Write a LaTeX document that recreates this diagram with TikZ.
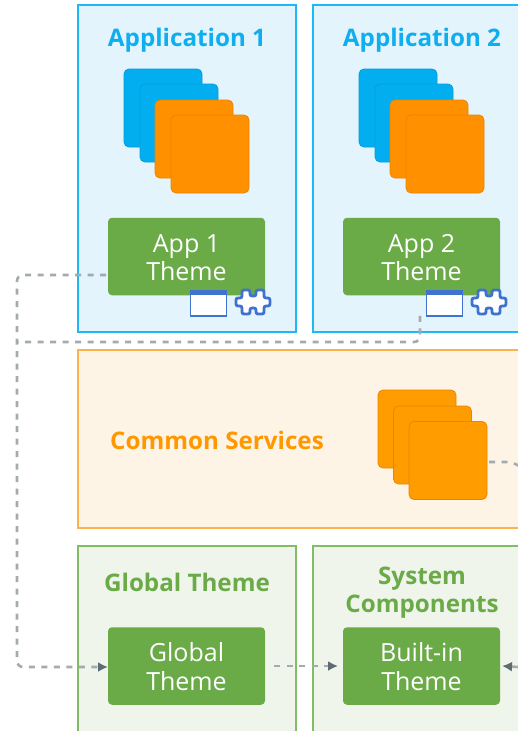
\documentclass[tikz,border=0pt]{standalone}
\usepackage{fontspec}
\setmainfont{Open Sans}
\usetikzlibrary{arrows.meta}
\definecolor{panelblue}{HTML}{E3F4FC}
\definecolor{edgeblue}{HTML}{1FB8F7}
\definecolor{paneloran}{HTML}{FEF4E6}
\definecolor{edgeoran}{HTML}{FBB24A}
\definecolor{panelgreen}{HTML}{EFF5EB}
\definecolor{edgegreen}{HTML}{82BC64}
\definecolor{themegreen}{HTML}{6AAB47}
\definecolor{stackblue}{HTML}{03AEF0}
\definecolor{stackoran}{HTML}{FF9100}
\definecolor{stackoranb}{HTML}{FF9C00}
\definecolor{titleblue}{HTML}{0FAEEF}
\definecolor{titleoran}{HTML}{FF9800}
\definecolor{iconblue}{HTML}{3F73CF}
\definecolor{dashgrey}{HTML}{A3ABAF}
\definecolor{headgrey}{HTML}{5F6B73}
\tikzset{
  x=1pt,y=-1pt,
  panel/.style={draw=#1,line width=1.3pt,anchor=north west,inner sep=0pt,outer sep=0pt},
  card/.style={rounded corners=5pt,minimum width=78pt,minimum height=78pt,inner sep=0pt,outer sep=0pt,line width=0.8pt},
  cardblue/.style={card,fill=stackblue,draw=stackblue!90!black},
  cardoran/.style={card,fill=stackoran,draw=stackoran!92!black},
  cardcommon/.style={card,fill=stackoranb,draw=stackoran!92!black},
  theme/.style={fill=themegreen,rounded corners=4pt,minimum width=157pt,minimum height=77.5pt,inner sep=0pt,outer sep=0pt,text=white,font=\fontsize{25}{28.5}\selectfont,align=center},
  title/.style={font=\fontsize{24.2}{28}\selectfont\bfseries,align=center,inner sep=0pt},
  conn/.style={draw=dashgrey,line width=2.6pt,dash pattern=on 6pt off 6.5pt,rounded corners=6pt},
  arrowconn/.style={conn,-{Latex[length=10pt,width=10pt,color=headgrey]}},
  winicon/.style={draw=iconblue,fill=white,line width=1.6pt,minimum width=36pt,minimum height=24.5pt,inner sep=0pt,outer sep=0pt},
  puzzlepath/.style={draw=iconblue,fill=white,line width=2.8pt,rounded corners=2pt},
}
\newcommand{\puzzleat}[2]{%
  \draw[puzzlepath,shift={(#1,#2)}]
    (-11,-12) -- (-3,-12) -- (-3,-6) -- (3,-6) -- (3,-12) -- (11,-12) -- (11,-4)
    -- (17,-4) -- (17,4) -- (11,4) -- (11,12) -- (3,12) -- (3,6) -- (-3,6) -- (-3,12)
    -- (-11,12) -- (-11,4) -- (-17,4) -- (-17,-4) -- (-11,-4) -- cycle;}
\begin{document}
\begin{tikzpicture}
\useasboundingbox (0,0) rectangle (518,731);
\clip (0,0) rectangle (518,731);
% panels
\path[panel=edgeblue,fill=panelblue] (78,5) rectangle (296,332);
\path[panel=edgeblue,fill=panelblue] (313,5) rectangle (560,332);
\path[panel=edgeoran,fill=paneloran] (78,350) rectangle (560,528);
\path[panel=edgegreen,fill=panelgreen] (78,546) rectangle (296,760);
\path[panel=edgegreen,fill=panelgreen] (313,546) rectangle (560,760);
% titles
\node[title,text=titleblue] (t1) at (187,40) {Application 1};
\node[title,text=titleblue] (t2) at (422,40) {Application 2};
\node[title,text=titleoran,anchor=west] (t3) at (110,440.5) {Common Services};
\node[title,text=themegreen] (t4) at (187,582) {Global Theme};
\node[title,text=themegreen] (t5) at (422,593) {System\\Components};
% app stacks
\node[cardblue] (a1) at (163,108) {};
\node[cardblue] (a2) at (179,123) {};
\node[cardoran] (a3) at (194,139) {};
\node[cardoran] (a4) at (210,154) {};
\node[cardblue] (b1) at (398,108) {};
\node[cardblue] (b2) at (414,123) {};
\node[cardoran] (b3) at (429,139) {};
\node[cardoran] (b4) at (445,154) {};
% common stack
\node[cardcommon] (c1) at (417,429) {};
\node[cardcommon] (c2) at (432.5,445) {};
\node[cardcommon] (c3) at (448,460.5) {};
% themes
\node[theme] (th1) at (186.5,256.5) {\strut App 1\\Theme};
\node[theme] (th2) at (421.5,256.5) {\strut App 2\\Theme};
\node[theme] (gt) at (186.5,666) {\strut Global\\Theme};
\node[theme] (bt) at (421.5,666) {\strut Built-in\\Theme};
% coordinates
\coordinate (bend) at (17,342);
\coordinate (corner) at (17,667);
\coordinate (topleft) at (17,275);
\coordinate (r1) at (518,667);
\coordinate (r2) at (530,472);
% icons
\node[winicon] (w1) at (208.5,303.5) {};
\fill[iconblue] (w1.north west) rectangle ([yshift=-4pt]w1.north east);
\puzzleat{253}{302}
\node[winicon] (w2) at (444.5,303.5) {};
\fill[iconblue] (w2.north west) rectangle ([yshift=-4pt]w2.north east);
\puzzleat{489}{302}
% connectors
\draw[arrowconn] (th1.west |- topleft) ++(-2,0) -- (topleft) -- (corner) -- (gt.west |- corner);
\draw[conn] (w2.south -| 420,0) -- (420,342) -- (bend);
\draw[arrowconn] ([xshift=9pt]gt.east) -- ([xshift=-5pt]bt.west);
\draw[arrowconn] (r1) -- ([xshift=2pt]bt.east);
\draw[conn] ([xshift=2pt]c3.east |- 0,462) -- (512,462) -- (r2);
\end{tikzpicture}
\end{document}
